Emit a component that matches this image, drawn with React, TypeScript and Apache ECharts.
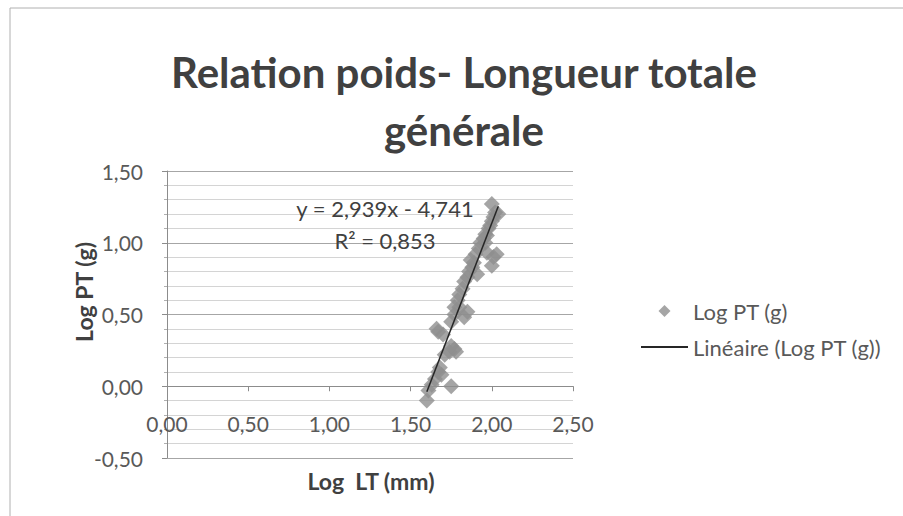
import { useEffect, useRef } from "react";
import * as echarts from "echarts";

const titleLines = ["Relation poids- Longueur totale", "générale"];
const xName = "Log  LT (mm)";
const yName = "Log PT (g)";
const scatterName = "Log PT (g)";
const trendName = "Linéaire (Log PT (g))";

const logLT = [
  1.6, 1.61, 1.63, 1.65, 1.67, 1.69, 1.75, 1.68, 1.67, 1.66,
  1.7, 1.71, 1.74, 1.77, 1.78, 1.75, 1.75, 1.77, 1.77, 1.8,
  1.83, 1.85, 1.79, 1.8, 1.82, 1.83, 1.85, 1.86, 1.88, 1.89,
  1.91, 1.87, 1.9, 1.92, 1.93, 1.95, 1.96, 1.98, 1.99, 2.0,
  2.01, 2.02, 2.0, 2.04, 2.03, 2.01, 1.97, 2.0, 1.96, 1.97,
];
const logPT = [
  -0.1, -0.03, 0.01, 0.05, 0.1, 0.08, 0.0, 0.13, 0.38, 0.4,
  0.36, 0.22, 0.24, 0.26, 0.24, 0.28, 0.45, 0.5, 0.55, 0.55,
  0.48, 0.52, 0.6, 0.64, 0.68, 0.73, 0.76, 0.8, 0.83, 0.86,
  0.78, 0.88, 0.92, 0.96, 1.0, 1.03, 1.06, 1.1, 1.12, 1.15,
  1.18, 1.21, 1.27, 1.2, 0.92, 0.9, 0.93, 0.84, 1.0, 1.05,
];

const slope = 2.939;
const intercept = -4.741;
const equationText = "y = 2,939x - 4,741";
const r2Text = "R² = 0,853";

const xMin = 0, xMax = 2.5, xStep = 0.5;
const yMin = -0.5, yMax = 1.5, yStep = 0.5;

const fmt = (v: number) => v.toFixed(2).replace(".", ",");
const FONT = "Lato, 'Open Sans', sans-serif";
const DIAMOND = "path://M0,-1L1,0L0,1L-1,0Z";

const GRID = { left: 167, right: 330, top: 171, bottom: 58 };
const CHART_H = 516;
const MAJOR_GRID = "#a6a6a6";

export default function App() {
  const ref = useRef<HTMLDivElement>(null);
  useEffect(() => {
    if (!ref.current) return;
    const chart = echarts.init(ref.current, undefined, { renderer: "svg" });
    const points = logLT.map((x, i) => [x, logPT[i]]);
    const lo = Math.min(...logLT);
    const hi = Math.max(...logLT);
    const trend = [
      [lo, slope * lo + intercept],
      [hi, slope * hi + intercept],
    ];
    // place the x axis where y = 0 (Excel-style crossing)
    const plotH = CHART_H - GRID.top - GRID.bottom;
    const zeroOffset = -((0 - yMin) / (yMax - yMin)) * plotH;
    chart.setOption({
      animation: false,
      backgroundColor: "#ffffff",
      textStyle: { fontFamily: FONT },
      grid: { ...GRID, outerBoundsMode: "none", containLabel: false },
      xAxis: {
        type: "value",
        min: xMin,
        max: xMax,
        interval: xStep,
        offset: zeroOffset,
        axisLine: { onZero: false, lineStyle: { color: "#8c8c8c", width: 1 } },
        axisTick: { show: true, length: 5, lineStyle: { color: "#8c8c8c" } },
        axisLabel: { color: "#595959", fontSize: 21, margin: 27, formatter: fmt, fontFamily: FONT },
        splitLine: { show: false },
      },
      yAxis: {
        type: "value",
        min: yMin,
        max: yMax,
        interval: yStep,
        axisLine: { show: true, onZero: false, lineStyle: { color: "#8c8c8c", width: 1 } },
        axisTick: { show: true, length: 5, lineStyle: { color: "#8c8c8c" } },
        minorTick: { show: true, splitNumber: 5, length: 3, lineStyle: { color: "#b0b0b0" } },
        axisLabel: { color: "#595959", fontSize: 21, margin: 24, formatter: fmt, fontFamily: FONT },
        splitLine: { show: true, showMinLine: true, showMaxLine: true, lineStyle: { color: MAJOR_GRID, width: 1 } },
        minorSplitLine: { show: true, lineStyle: { color: "#d4d4d4", width: 1 } },
      },
      legend: {
        orient: "vertical",
        left: 635,
        top: 295,
        itemWidth: 47,
        itemHeight: 12,
        itemGap: 14,
        symbolKeepAspect: true,
        textStyle: { color: "#595959", fontSize: 22, fontFamily: FONT },
        data: [
          { name: scatterName, icon: DIAMOND },
          { name: trendName, itemStyle: { color: "rgba(0,0,0,0)", borderWidth: 0 } },
        ],
      },
      graphic: [
        {
          type: "rect",
          shape: { x: 10, y: 8, width: 1000, height: 600 },
          style: { fill: "none", stroke: "#b0b0b0", lineWidth: 1 },
          silent: true,
        },
        {
          type: "text",
          x: 464,
          y: 72,
          style: {
            text: titleLines[0],
            fontSize: 42,
            fontWeight: "bold",
            fontFamily: FONT,
            fill: "#404040",
            align: "center",
            verticalAlign: "middle",
          },
        },
        {
          type: "text",
          x: 464,
          y: 130,
          style: {
            text: titleLines[1],
            fontSize: 42,
            fontWeight: "bold",
            fontFamily: FONT,
            fill: "#404040",
            align: "center",
            verticalAlign: "middle",
          },
        },
        {
          type: "text",
          x: 84,
          y: 292,
          rotation: Math.PI / 2,
          style: {
            text: yName,
            fontSize: 23,
            fontWeight: "bold",
            fontFamily: FONT,
            fill: "#404040",
            align: "center",
            verticalAlign: "middle",
          },
        },
        {
          type: "text",
          x: 371,
          y: 481,
          style: {
            text: xName,
            fontSize: 23,
            fontWeight: "bold",
            fontFamily: FONT,
            fill: "#404040",
            align: "center",
            verticalAlign: "middle",
          },
        },
        {
          type: "text",
          x: 385,
          y: 208,
          z: 10,
          style: {
            text: equationText,
            fontSize: 22,
            fontFamily: FONT,
            fill: "#404040",
            align: "center",
            verticalAlign: "middle",
          },
        },
        {
          type: "text",
          x: 385,
          y: 240,
          z: 10,
          style: {
            text: r2Text,
            fontSize: 22,
            fontFamily: FONT,
            fill: "#404040",
            align: "center",
            verticalAlign: "middle",
          },
        },
      ],
      series: [
        {
          name: scatterName,
          type: "scatter",
          symbol: "diamond",
          symbolSize: 16,
          itemStyle: { color: "#8e8e8e" },
          data: points,
          markLine: {
            silent: true,
            symbol: "none",
            label: { show: false },
            lineStyle: { color: MAJOR_GRID, type: "solid", width: 1 },
            data: [{ yAxis: yMin }],
            z: 1,
          },
        },
        {
          name: trendName,
          type: "line",
          symbol: "none",
          lineStyle: { color: "#262626", width: 1.5 },
          itemStyle: { color: "#262626" },
          data: trend,
          z: 3,
        },
      ],
    });
    return () => chart.dispose();
  }, []);
  return (
    <div
      ref={ref}
      style={{ position: "fixed", left: 0, top: 0, width: 903, height: CHART_H }}
    />
  );
}
